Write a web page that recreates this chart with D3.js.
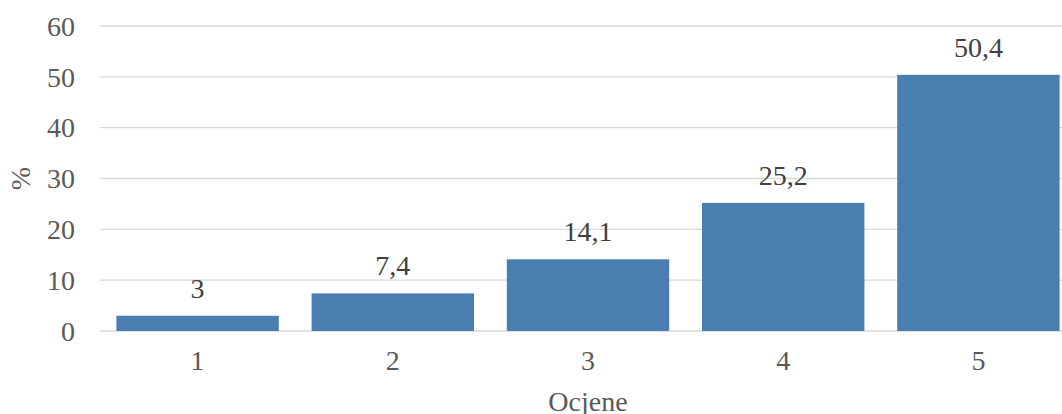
<!DOCTYPE html>
<html>
<head>
<meta charset="utf-8">
<script src="https://cdn.jsdelivr.net/npm/d3@7"></script>
<style>
  html, body { margin: 0; padding: 0; background: #fff; overflow: hidden; }
  text { font-family: "Liberation Serif", "Times New Roman", serif; }
</style>
</head>
<body>
<div id="chart"></div>
<script>
// grades and share of answers (%)
const grades = ['1', '2', '3', '4', '5'];
const shares = [3, 7.4, 14.1, 25.2, 50.4];
const yTicks = [0, 10, 20, 30, 40, 50, 60];

const W = 1062, H = 414;
const M = { top: 26, right: -14, bottom: 83, left: 100 };
const w = W - M.left - M.right, h = H - M.top - M.bottom;

const svg = d3.select('#chart').append('svg')
  .attr('width', W).attr('height', H);
const g = svg.append('g').attr('transform', `translate(${M.left},${M.top})`);

const x = d3.scaleBand().domain(grades).range([0, w]).paddingInner(0.168).paddingOuter(0.084);
const y = d3.scaleLinear().domain([0, 60]).range([h, 0]);

// gridlines
g.selectAll('.grid').data(yTicks).enter().append('line')
  .attr('x1', 0).attr('x2', W - M.left)
  .attr('y1', d => y(d)).attr('y2', d => y(d))
  .attr('stroke', '#d9d9d9').attr('stroke-width', 1.4);

// y tick labels
g.selectAll('.ylbl').data(yTicks).enter().append('text')
  .attr('x', -25).attr('y', d => y(d)).attr('dy', '0.35em')
  .attr('text-anchor', 'end').attr('fill', '#595959').attr('font-size', 28)
  .text(d => d);

// bars
const data = grades.map((k, i) => ({ k, v: shares[i] }));
g.selectAll('.bar').data(data).enter().append('rect')
  .attr('x', d => x(d.k)).attr('width', x.bandwidth())
  .attr('y', d => y(d.v)).attr('height', d => h - y(d.v))
  .attr('fill', '#4a7eb0');

// value labels
g.selectAll('.vlbl').data(data).enter().append('text')
  .attr('x', d => x(d.k) + x.bandwidth() / 2).attr('y', d => y(d.v) - 18)
  .attr('text-anchor', 'middle').attr('fill', '#404040').attr('font-size', 28)
  .text(d => String(d.v).replace('.', ','));

// x tick labels
g.selectAll('.xlbl').data(grades).enter().append('text')
  .attr('x', d => x(d) + x.bandwidth() / 2).attr('y', h + 39)
  .attr('text-anchor', 'middle').attr('fill', '#595959').attr('font-size', 28)
  .text(d => d);

// axis titles
svg.append('text')
  .attr('x', M.left + (x('3') + x.bandwidth() / 2)).attr('y', 411)
  .attr('text-anchor', 'middle').attr('fill', '#595959').attr('font-size', 28)
  .text('Ocjene');

svg.append('text')
  .attr('transform', `translate(30,${M.top + h / 2}) rotate(-90)`)
  .attr('text-anchor', 'middle').attr('fill', '#595959').attr('font-size', 28)
  .text('%');
</script>
</body>
</html>
